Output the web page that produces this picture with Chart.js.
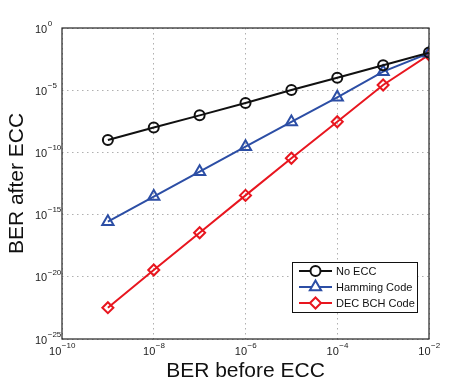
<!DOCTYPE html>
<html>
<head>
<meta charset="utf-8">
<script src="https://cdn.jsdelivr.net/npm/chart.js@4"></script>
<style>
  html, body { margin: 0; padding: 0; background: #fff; }
  #wrap { width: 474px; height: 383px; }
</style>
</head>
<body>
<div id="wrap"><canvas id="myChart" width="474" height="383"></canvas></div>
<script>
// BER before ECC (x)
const berBefore = [1e-9, 1e-8, 1e-7, 1e-6, 1e-5, 1e-4, 1e-3, 1e-2];
// BER after ECC (y)
const noEcc   = [1e-9, 1e-8, 9.5e-8, 9.3e-7, 1.05e-5, 1e-4, 1e-3, 1.05e-2];
const hamming = [2.7e-16, 2.8e-14, 2.8e-12, 2.9e-10, 2.8e-8, 2.7e-6, 3.1e-4, 9.5e-3];
const decBch  = [3.3e-23, 3.5e-20, 3.5e-17, 3.5e-14, 3.4e-11, 2.9e-8, 2.6e-5, 7e-3];

const seriesLabels = ['No ECC', 'Hamming Code', 'DEC BCH Code'];
const xTickExp = [-10, -8, -6, -4, -2];
const yTickExp = [-25, -20, -15, -10, -5, 0];

const toPts = ys => berBefore.map((x, i) => ({ x: x, y: ys[i] }));

const colors = ['#111111', '#2c4ea5', '#e8161f'];
const shapes = ['circle', 'triangle', 'rectRot'];
const radii = [5, 6.5, 5.5];

const data = {
  datasets: [noEcc, hamming, decBch].map((ys, i) => ({
    label: seriesLabels[i],
    data: toPts(ys),
    borderColor: colors[i],
    backgroundColor: 'rgba(0,0,0,0)',
    pointBorderColor: colors[i],
    pointBackgroundColor: 'rgba(0,0,0,0)',
    pointStyle: shapes[i],
    pointRadius: radii[i],
    pointBorderWidth: 2,
    borderWidth: 2,
    tension: 0,
  })),
};

// 10^n の軸ラベル・タイトル・枠・凡例を描く
const decorPlugin = {
  id: 'decor',
  afterDraw(chart) {
    const { ctx, chartArea: a, scales } = chart;
    ctx.save();
    // box
    ctx.strokeStyle = '#222';
    ctx.lineWidth = 1.2;
    ctx.strokeRect(a.left, a.top, a.right - a.left, a.bottom - a.top);

    const pow = (x, y, e, align) => {
      ctx.textBaseline = 'middle';
      ctx.fillStyle = '#222';
      ctx.font = '11px "Liberation Sans", Arial, sans-serif';
      const w1 = ctx.measureText('10').width;
      ctx.font = '8px "Liberation Sans", Arial, sans-serif';
      const es = e === 0 ? '0' : '\u2212' + Math.abs(e);
      const w2 = ctx.measureText(es).width;
      let x0 = align === 'center' ? x - (w1 + w2) / 2 : x;
      ctx.textAlign = 'left';
      ctx.font = '11px "Liberation Sans", Arial, sans-serif';
      ctx.fillText('10', x0, y);
      ctx.font = '8px "Liberation Sans", Arial, sans-serif';
      ctx.fillText(es, x0 + w1 + 0.5, y - 6);
    };
    yTickExp.forEach(e => pow(35, scales.y.getPixelForValue(Math.pow(10, e)) + 1.5, e, 'left'));
    xTickExp.forEach(e => pow(scales.x.getPixelForValue(Math.pow(10, e)), a.bottom + 13, e, 'center'));

    // axis titles
    ctx.fillStyle = '#111';
    ctx.font = '21px "Liberation Sans", Arial, sans-serif';
    ctx.textAlign = 'center';
    ctx.textBaseline = 'middle';
    ctx.fillText('BER before ECC', (a.left + a.right) / 2, 371);
    ctx.save();
    ctx.translate(17, (a.top + a.bottom) / 2);
    ctx.rotate(-Math.PI / 2);
    ctx.fillText('BER after ECC', 0, 0);
    ctx.restore();

    // legend
    const lx = 292, ly = 262, lw = 125, lh = 50;
    ctx.fillStyle = '#fff';
    ctx.fillRect(lx, ly, lw, lh);
    ctx.strokeStyle = '#111';
    ctx.lineWidth = 1;
    ctx.strokeRect(lx + 0.5, ly + 0.5, lw, lh);
    chart.data.datasets.forEach((ds, i) => {
      const yy = ly + 9 + i * 16;
      ctx.strokeStyle = ds.borderColor;
      ctx.lineWidth = 2;
      ctx.beginPath();
      ctx.moveTo(lx + 7, yy);
      ctx.lineTo(lx + 40, yy);
      ctx.stroke();
      ctx.fillStyle = '#fff';
      ctx.strokeStyle = ds.borderColor;
      ctx.lineWidth = 2;
      Chart.helpers.drawPoint(ctx, { pointStyle: ds.pointStyle, radius: ds.pointRadius, borderWidth: 2 }, lx + 23.5, yy);
      ctx.fillStyle = '#111';
      ctx.font = '11px "Liberation Sans", Arial, sans-serif';
      ctx.textAlign = 'left';
      ctx.fillText(ds.label, lx + 44, yy + 0.5);
    });
    ctx.restore();
  },
};

const setTicks = exps => scale => { scale.ticks = exps.map(e => ({ value: Math.pow(10, e) })); };

const config = {
  type: 'line',
  data: data,
  options: {
    responsive: false,
    animation: false,
    layout: { padding: { left: 62, right: 45, top: 28, bottom: 44 } },
    scales: {
      x: {
        type: 'logarithmic',
        min: 1e-10,
        max: 1e-2,
        afterBuildTicks: setTicks(xTickExp),
        ticks: { display: false },
        grid: { color: '#b0b0b0', lineWidth: 1, drawTicks: false },
        border: { display: false, dash: [1.5, 3.5] },
      },
      y: {
        type: 'logarithmic',
        min: 1e-25,
        max: 1,
        afterBuildTicks: setTicks(yTickExp),
        ticks: { display: false },
        grid: { color: '#b0b0b0', lineWidth: 1, drawTicks: false },
        border: { display: false, dash: [1.5, 3.5] },
      },
    },
    plugins: {
      legend: { display: false },
      tooltip: { enabled: false },
    },
  },
  plugins: [decorPlugin],
};

const myChart = new Chart(document.getElementById('myChart'), config);
</script>
</body>
</html>
